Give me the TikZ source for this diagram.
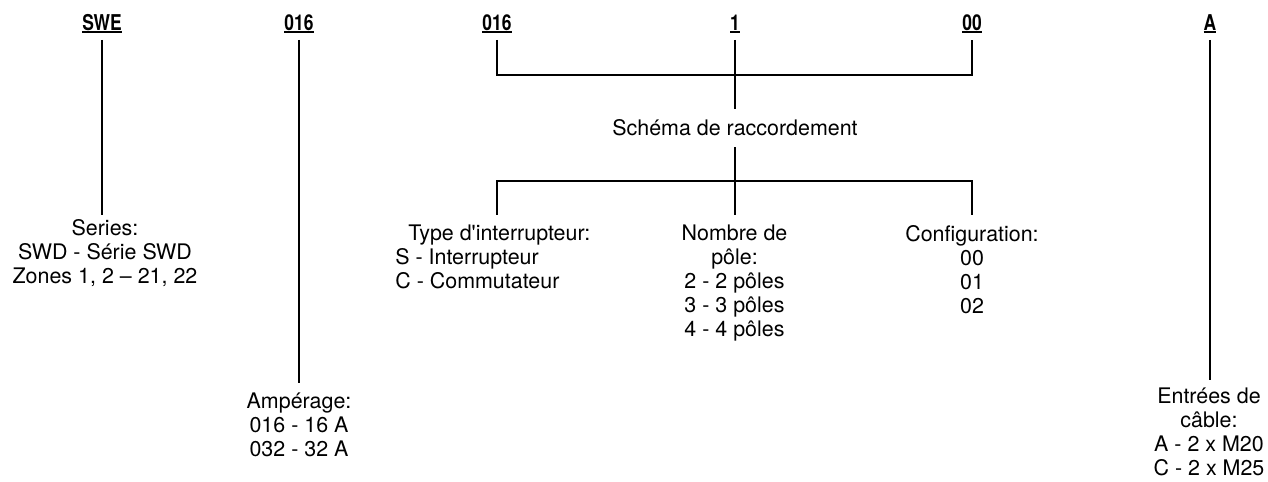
\documentclass[tikz,border=0pt]{standalone}
\usepackage{fontspec}
\newfontfamily\descfont{TeX Gyre Heros}
\newfontfamily\codefont[FakeStretch=0.8]{TeX Gyre Heros}
\newcommand\codeul[1]{\setbox0=\hbox{#1}\rlap{\rule[-0.052cm]{\wd0}{0.04cm}}\box0}
\tikzset{
  code/.style={font={\codefont\bfseries\fontsize{12.4}{14}\selectfont}, inner sep=0pt, outer ysep=0.134cm, anchor=base},
  desc/.style={font={\descfont\fontsize{12.2}{13.66}\selectfont}, inner sep=0pt, outer ysep=0.2cm, align=center, anchor=north},
  link/.style={line width=0.6pt}
}
\begin{document}
\begin{tikzpicture}[x=0.02cm, y=-0.02cm]
  \useasboundingbox (0,0) rectangle (1268,482);
  % Code
  \node[code] (hswe) at (102,30.7) {\codeul{SWE}};
  \node[code] (hamp) at (299,30.7) {\codeul{016}};
  \node[code] (hsch) at (497,30.7) {\codeul{016}};
  \node[code] (hpol) at (735,30.7) {\codeul{1}};
  \node[code] (hcfg) at (972,30.7) {\codeul{00}};
  \node[code] (hcab) at (1210,30.7) {\codeul{A}};
  % Descriptions
  \node[desc, anchor=base, outer ysep=0.22cm] (schema) at (735,136) {Schéma de raccordement};
  \node[desc, outer ysep=0.08cm] (series) at (105,215) {Series:\\SWD - Série SWD\\Zones 1, 2 \textendash{} 21, 22};
  \node[desc, align=left, anchor=north west] (type) at (395,215) {\hspace*{0.26cm}Type d'interrupteur:\\S - Interrupteur\\C - Commutateur};
  \node[desc] (nombre) at (734.5,215) {Nombre de\\pôle:\\2 - 2 pôles\\3 - 3 pôles\\4 - 4 pôles};
  \node[desc] (config) at (972,215) {Configuration:\\00\\01\\02};
  \node[desc] (amp) at (299,383) {Ampérage:\\016 - 16 A\\032 - 32 A};
  \node[desc, outer ysep=0.16cm] (cable) at (1209,380) {Entrées de\\câble:\\A - 2 x M20\\C - 2 x M25};
  % Brackets
  \coordinate (tbar) at (735,75);
  \coordinate (jl) at (497,181);
  \coordinate (jr) at (972,181);
  \draw[link] (hswe.south) -- (hswe.south |- series.north);
  \draw[link] (hamp.south) -- (hamp.south |- amp.north);
  \draw[link] (hcab.south) -- (hcab.south |- cable.north);
  \draw[link] (hsch.south) |- (tbar) -| (hcfg.south);
  \draw[link] (hpol.south) -- (hpol.south |- schema.north);
  \draw[link] (schema.south) -- (schema.south |- nombre.north);
  \draw[link] (jl |- type.north) -- (jl) -- (jr) -- (jr |- config.north);
\end{tikzpicture}
\end{document}
